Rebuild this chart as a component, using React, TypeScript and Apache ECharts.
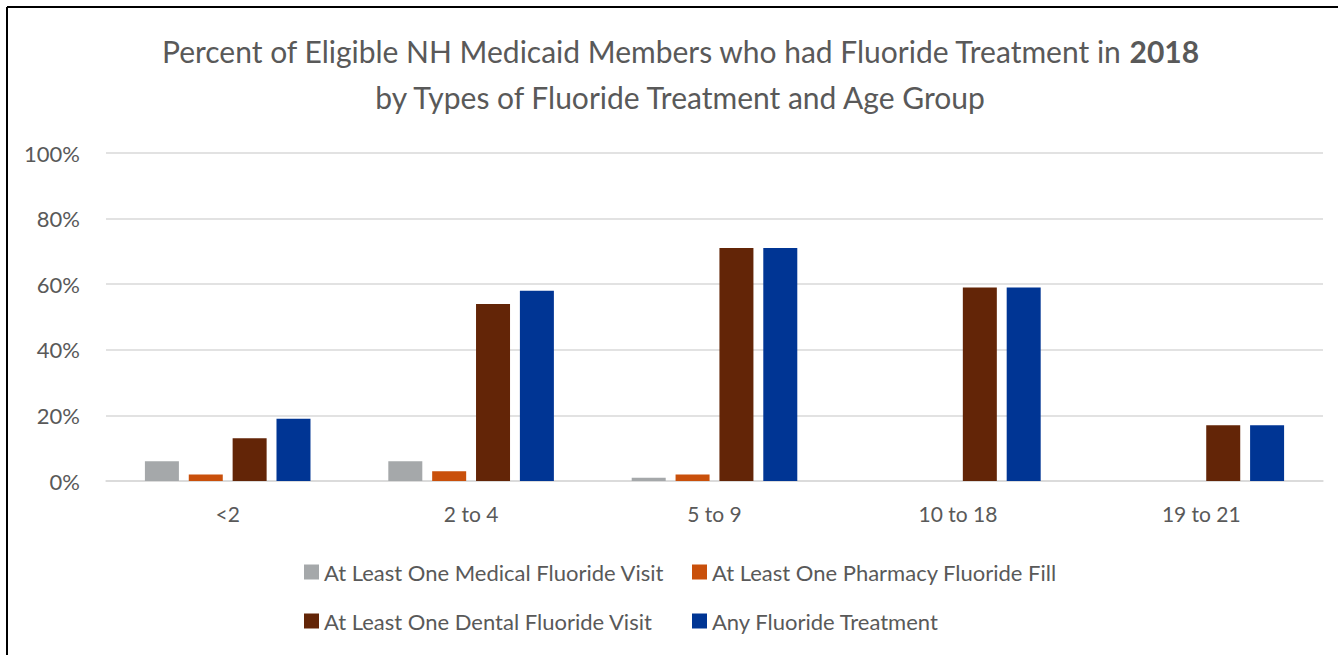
import React, { useEffect, useRef } from "react";
import * as echarts from "echarts";

const categories = ["<2", "2 to 4", "5 to 9", "10 to 18", "19 to 21"];
const seriesNames = [
  "At Least One Medical Fluoride Visit",
  "At Least One Pharmacy Fluoride Fill",
  "At Least One Dental Fluoride Visit",
  "Any Fluoride Treatment",
];
const medicalVisit = [6, 6, 1, 0, 0];
const pharmacyFill = [2, 3, 2, 0, 0];
const dentalVisit = [13, 54, 71, 59, 17];
const anyTreatment = [19, 58, 71, 59, 17];
const seriesColors = ["#A5A8AA", "#C9500B", "#632507", "#003594"];
const yTicks = [0, 20, 40, 60, 80, 100];

const FONT = "Lato, 'Noto Sans', sans-serif";
const TEXT = "#595959";

export default function App() {
  const ref = useRef<HTMLDivElement>(null);
  useEffect(() => {
    if (!ref.current) return;
    const chart = echarts.init(ref.current, null, { renderer: "svg" });
    const values = [medicalVisit, pharmacyFill, dentalVisit, anyTreatment];
    const legendBase = {
      orient: "vertical",
      top: 556,
      itemWidth: 15,
      itemHeight: 15,
      itemGap: 27,
      icon: "rect",
      textStyle: { fontSize: 22, lineHeight: 22, color: TEXT, fontFamily: FONT },
    };
    chart.setOption({
      animation: false,
      backgroundColor: "#ffffff",
      textStyle: { fontFamily: FONT },
      graphic: [
        { type: "line", shape: { x1: 7, y1: 7, x2: 1338, y2: 7 }, style: { stroke: "#000", lineWidth: 2 } },
        { type: "line", shape: { x1: 7, y1: 7, x2: 7, y2: 655 }, style: { stroke: "#000", lineWidth: 2 } },
        {
          type: "text",
          x: 680,
          y: 51,
          style: {
            text: "Percent of Eligible NH Medicaid Members who had Fluoride Treatment in {b|2018}",
            rich: { b: { fontWeight: "bold", fontSize: 30, fontFamily: FONT, fill: TEXT } },
            fontSize: 30,
            fontFamily: FONT,
            fill: TEXT,
            align: "center",
            verticalAlign: "middle",
          },
        },
        {
          type: "text",
          x: 680,
          y: 97,
          style: {
            text: "by Types of Fluoride Treatment and Age Group",
            fontSize: 30,
            fontFamily: FONT,
            fill: TEXT,
            align: "center",
            verticalAlign: "middle",
          },
        },
      ],
      legend: [
        { ...legendBase, left: 299, data: [seriesNames[0], seriesNames[2]] },
        { ...legendBase, left: 687, data: [seriesNames[1], seriesNames[3]] },
      ],
      grid: { left: 106, right: 15, top: 153, bottom: 174, containLabel: false },
      xAxis: {
        type: "category",
        data: categories,
        axisLine: { show: true, lineStyle: { color: "#d9d9d9", width: 1.5 } },
        axisTick: { show: false },
        axisLabel: { fontSize: 21, color: TEXT, margin: 22, fontFamily: FONT },
      },
      yAxis: {
        type: "value",
        min: yTicks[0],
        max: yTicks[yTicks.length - 1],
        interval: 20,
        axisLine: { show: false },
        axisTick: { show: false },
        splitLine: { lineStyle: { color: "#d9d9d9", width: 1.5 } },
        axisLabel: { fontSize: 22, color: TEXT, margin: 26, formatter: "{value}%", fontFamily: FONT },
      },
      series: seriesNames.map((name, i) => ({
        name,
        type: "bar",
        data: values[i],
        barWidth: 34,
        barGap: "29%",
        itemStyle: { color: seriesColors[i] },
      })),
    });
    return () => chart.dispose();
  }, []);
  return (
    <div
      ref={ref}
      style={{ position: "fixed", left: 0, top: 0, width: 1338, height: 655 }}
    />
  );
}
